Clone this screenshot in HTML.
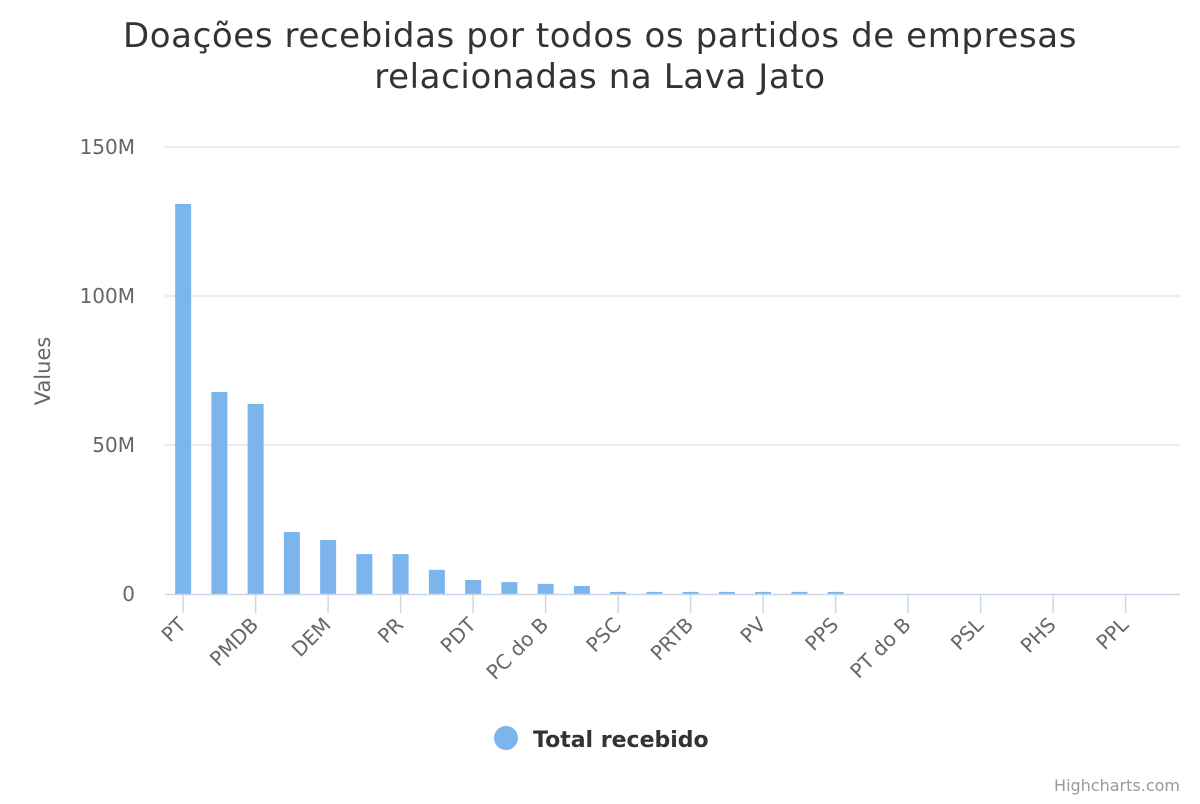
<!DOCTYPE html>
<html><head><meta charset="utf-8"><style>
body{margin:0;background:#fff;font-family:"DejaVu Sans","Liberation Sans",sans-serif}
svg text{font-family:"DejaVu Sans","Liberation Sans",sans-serif}
</style></head><body>
<svg id="c" width="1200" height="800" xmlns="http://www.w3.org/2000/svg">
<rect width="1200" height="800" fill="#fff"/>
<text x="600" y="47" text-anchor="middle" font-size="34" letter-spacing="0.6" fill="#333"><tspan x="600">Doações recebidas por todos os partidos de empresas</tspan><tspan x="600" dy="41">relacionadas na Lava Jato</tspan></text>
<text transform="translate(50,371) rotate(-90)" text-anchor="middle" font-size="21" fill="#666">Values</text>
<g id="grid"></g><g id="bars"></g><g id="xaxis"></g>
<g>
<circle cx="506" cy="738" r="12" fill="#7cb5ec"/>
<text x="533" y="747" font-size="22" font-weight="bold" fill="#333">Total recebido</text></g>
<text x="1180" y="791" text-anchor="end" font-size="16" fill="#999">Highcharts.com</text>
</svg>
<script>
const categories=["PT","PSDB","PMDB","PSB","DEM","PP","PR","PTB","PDT","PRB","PC do B","SD","PSC","PROS","PRTB","PMN","PV","PTN","PPS","PSDC","PT do B","PEN","PSL","PSOL","PHS","PTC","PPL","PRP"];
const values=[130.9,67.8,63.8,20.8,18.1,13.4,13.4,8.1,4.7,4.0,3.4,2.7,0.7,0.7,0.7,0.7,0.7,0.7,0.7,0,0,0,0,0,0,0,0,0];
const yTicks=[0,50,100,150];
const yLabels=["0","50M","100M","150M"];
const NS="http://www.w3.org/2000/svg";
const L=165,R=1180,T=147,B=594;
const y=v=>B-(v/150)*(B-T);
const bw=(R-L)/categories.length;
const x=i=>L+bw*(i+0.5);
function mk(tag,attrs,parent){const e=document.createElementNS(NS,tag);for(const k in attrs)e.setAttribute(k,attrs[k]);parent.appendChild(e);return e;}
const grid=document.getElementById('grid'),bars=document.getElementById('bars'),xa=document.getElementById('xaxis');
yTicks.forEach((t,i)=>{
 if(t>0){const g=mk('line',{x1:L,x2:R,y1:y(t),y2:y(t),stroke:'#e6e6e6','stroke-width':1.5},grid);
 
 }
 const tx=mk('text',{x:135,y:y(t)+7,'text-anchor':'end','font-size':20,fill:'#666'},grid);
 tx.textContent=yLabels[i];
 
 
});
values.forEach((v,i)=>{
 if(v<=0)return;
 const r=mk('rect',{x:x(i)-8,y:y(v),width:16,height:B-y(v),fill:'#7cb5ec'},bars);
 
 
});
const ax=mk('line',{x1:L,x2:R,y1:B+0.5,y2:B+0.5,stroke:'#ccd6eb','stroke-width':1.5},xa);


categories.forEach((c,i)=>{
 if(i%2)return;
 const tk=mk('line',{x1:x(i),x2:x(i),y1:B,y2:B+19,stroke:'#ccd6eb','stroke-width':1.5},xa);
 
 
 const t=mk('text',{transform:`translate(${x(i)+4},${B+32}) rotate(-45)`,'text-anchor':'end','font-size':20,fill:'#666'},xa);
 t.textContent=c;
 
 
});
</script>
</body></html>
